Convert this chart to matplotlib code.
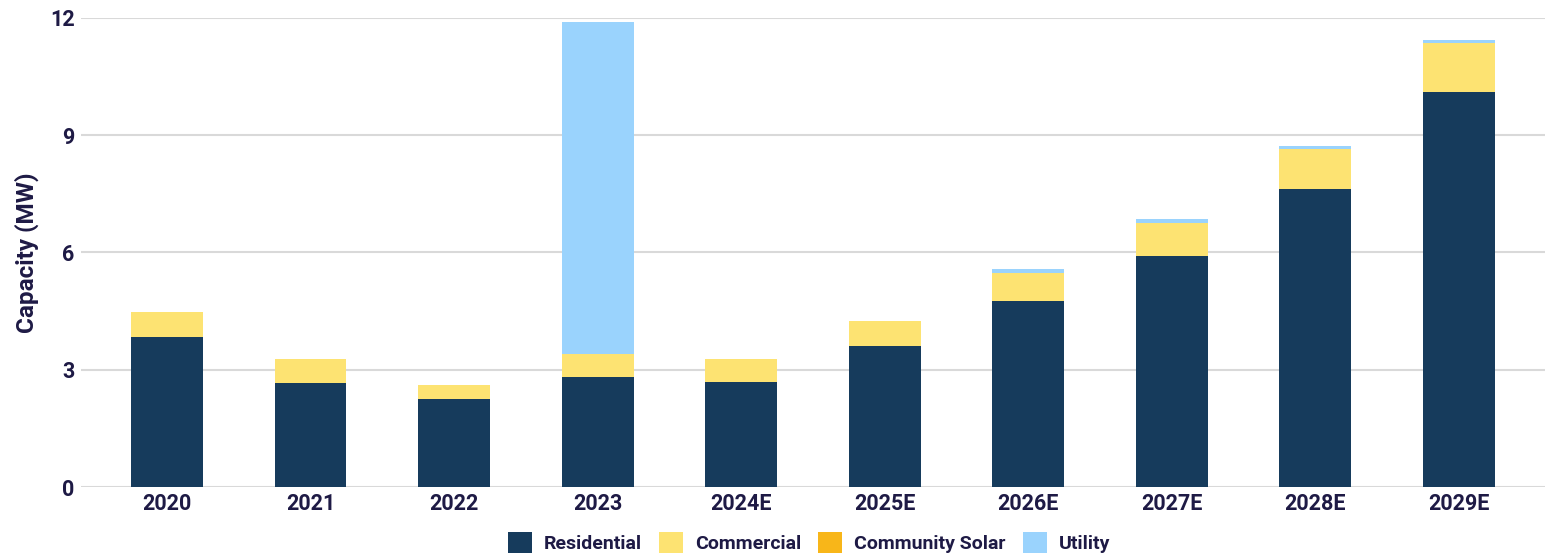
import numpy as np
from matplotlib import pyplot as plt

plt.rcParams['font.family'] = ['Roboto', 'DejaVu Sans']

years = ['2020', '2021', '2022', '2023', '2024E', '2025E', '2026E', '2027E', '2028E', '2029E']
residential = [3.84, 2.66, 2.25, 2.81, 2.69, 3.61, 4.76, 5.91, 7.63, 10.11]
commercial = [0.64, 0.62, 0.36, 0.59, 0.59, 0.64, 0.72, 0.85, 1.02, 1.25]
community = [0, 0, 0, 0, 0, 0, 0, 0, 0, 0]
utility = [0, 0, 0, 8.50, 0, 0, 0.10, 0.10, 0.08, 0.08]

txt = '#1e1a45'
series = [('Residential', residential, '#163b5c'),
          ('Commercial', commercial, '#fde372'),
          ('Community Solar', community, '#f8b619'),
          ('Utility', utility, '#9ad3fd')]

fig = plt.figure(figsize=(15.54, 5.55), dpi=100)
ax = fig.add_axes([0.0521, 0.1225, 0.9421, 0.8451])

x = np.arange(len(years))
bottom = np.zeros(len(years))
for name, vals, col in series:
    vals = np.array(vals)
    ax.bar(x, vals, 0.5, bottom=bottom, color=col, label=name, zorder=3)
    bottom += vals

ax.set_xlim(-0.6, 9.6)
ax.set_ylim(0, 12)
ax.set_yticks([0, 3, 6, 9, 12])
ax.set_xticks(x)
ax.set_xticklabels(years)
ax.grid(axis='y', color='#d9d9d9', linewidth=1.5, zorder=0)
for s in ax.spines.values():
    s.set_visible(False)
ax.tick_params(length=0, labelsize=15.5, labelcolor=txt, pad=4.5)
for lab in ax.get_xticklabels() + ax.get_yticklabels():
    lab.set_fontweight('bold')
ax.set_ylabel('Capacity (MW)', fontsize=17.5, fontweight='bold', color=txt, labelpad=8)

leg = fig.legend(*ax.get_legend_handles_labels(), loc='center', bbox_to_anchor=(0.5206, 0.022),
                 ncol=4, frameon=False, fontsize=14, handlelength=1.23, handleheight=1.25,
                 columnspacing=0.87, handletextpad=0.62, borderaxespad=0, borderpad=0)
for t in leg.get_texts():
    t.set_color(txt)
    t.set_fontweight('bold')

plt.savefig('out.png', dpi=100)
plt.close()
